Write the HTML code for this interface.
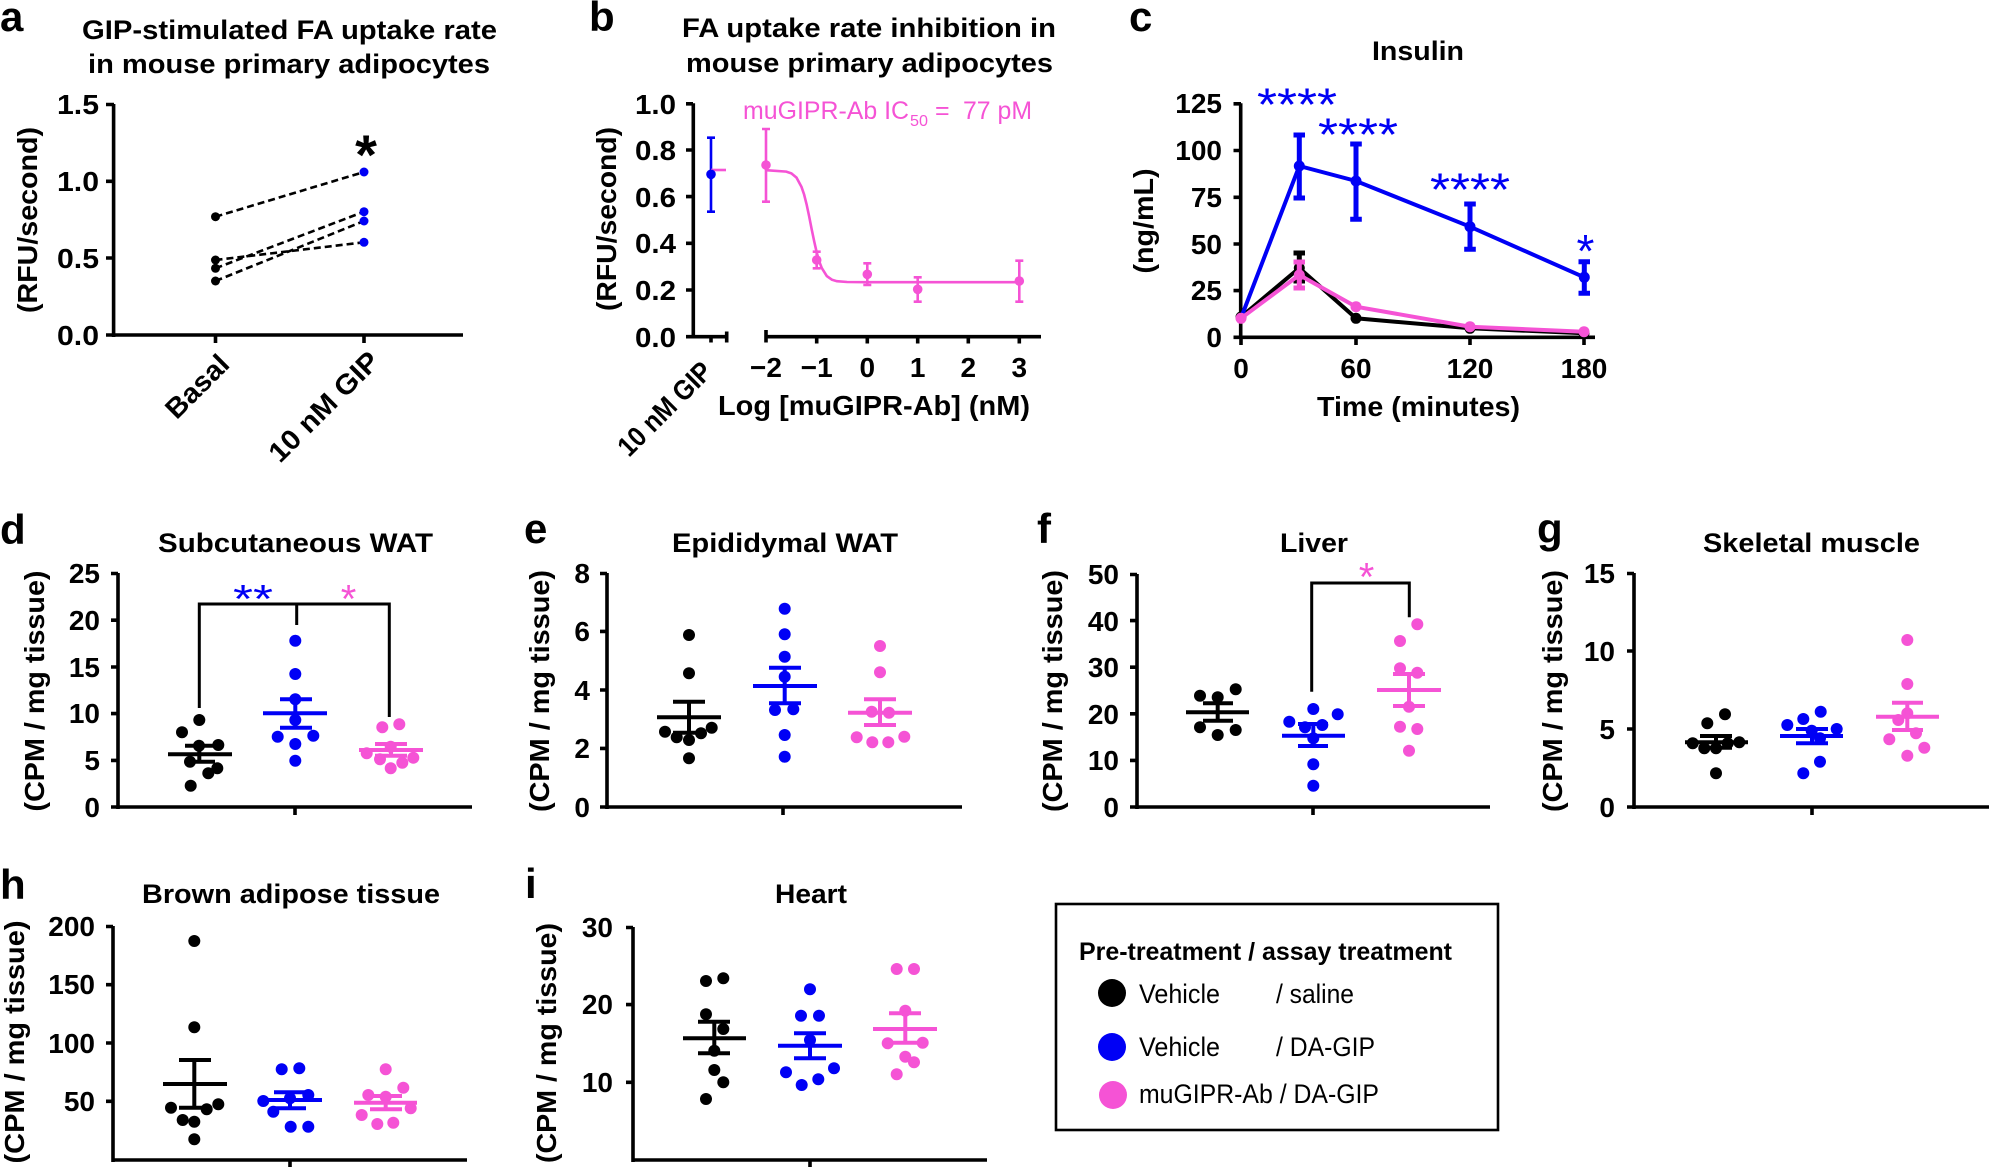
<!DOCTYPE html>
<html><head><meta charset="utf-8"><style>
html,body{margin:0;padding:0;background:#fff;width:1989px;height:1167px;overflow:hidden}
svg{display:block}
text{font-family:"Liberation Sans",Arial,Helvetica,sans-serif}
.lab{font-weight:bold;font-size:42px}
.tt{font-weight:bold;font-size:27px}
.tk{font-weight:bold;font-size:28px}
.tk2{font-weight:bold;font-size:28px}
.yl{font-weight:bold;font-size:28px}
.ax{stroke:#000;stroke-width:3.6;fill:none}
.k{fill:#000}.bl{fill:#0000f5}.pk{fill:#f553d5}
.mk{stroke:#000;stroke-width:4;fill:none}
.mb{stroke:#0000f5;stroke-width:4;fill:none}
.mp{stroke:#f553d5;stroke-width:4;fill:none}
</style></head><body>
<svg width="1989" height="1167" viewBox="0 0 1989 1167" xmlns="http://www.w3.org/2000/svg">
<rect width="1989" height="1167" fill="#fff"/>

<!-- ===== Panel a ===== -->
<text class="lab" x="0" y="31">a</text>
<text class="tt" x="82" y="39" textLength="415" lengthAdjust="spacingAndGlyphs">GIP-stimulated FA uptake rate</text>
<text class="tt" x="88" y="73" textLength="402" lengthAdjust="spacingAndGlyphs">in mouse primary adipocytes</text>
<path class="ax" d="M113.6 104V337M111.8 335H463M106 104.5H114M106 181.3H114M106 258H114M106 335H114M215.5 335V343M364 335V343"/>
<g class="tk2" text-anchor="end">
<text x="99" y="114" textLength="42" lengthAdjust="spacingAndGlyphs">1.5</text>
<text x="99" y="191" textLength="42" lengthAdjust="spacingAndGlyphs">1.0</text>
<text x="99" y="268" textLength="42" lengthAdjust="spacingAndGlyphs">0.5</text>
<text x="99" y="345" textLength="42" lengthAdjust="spacingAndGlyphs">0.0</text>
</g>
<text class="yl" x="0" y="0" text-anchor="middle" transform="translate(37 220) rotate(-90)" textLength="186" lengthAdjust="spacingAndGlyphs">(RFU/second)</text>
<text class="tk2" x="0" y="0" transform="translate(176.6 420.4) rotate(-45)" textLength="77" lengthAdjust="spacingAndGlyphs">Basal</text>
<text class="tk2" x="0" y="0" transform="translate(280 464) rotate(-45)" textLength="143" lengthAdjust="spacingAndGlyphs">10 nM GIP</text>
<g stroke="#000" stroke-width="2.6" stroke-dasharray="7 4" fill="none">
<path d="M215.5 216.7L364 172"/>
<path d="M215.5 260L364 242.3"/>
<path d="M215.5 268.3L364 211.7"/>
<path d="M215.5 281L364 221"/>
</g>
<g class="k"><circle cx="215.5" cy="216.7" r="4.5"/><circle cx="215.5" cy="260" r="4.5"/><circle cx="215.5" cy="268.3" r="4.5"/><circle cx="215.5" cy="281" r="4.5"/></g>
<g class="bl"><circle cx="364" cy="172" r="4.5"/><circle cx="364" cy="211.7" r="4.5"/><circle cx="364" cy="221" r="4.5"/><circle cx="364" cy="242.3" r="4.5"/></g>
<text x="366" y="174" text-anchor="middle" font-weight="bold" font-size="56">*</text>

<!-- ===== Panel b ===== -->
<text class="lab" x="589" y="31">b</text>
<text class="tt" x="682" y="37" textLength="374" lengthAdjust="spacingAndGlyphs">FA uptake rate inhibition in</text>
<text class="tt" x="686" y="72" textLength="367" lengthAdjust="spacingAndGlyphs">mouse primary adipocytes</text>
<path class="ax" d="M693.3 103.3V338.5M691.5 336.7H726.7M726.7 331.5V342.5M711 336.7V342.5M766 330V342.5M766 336.7H1041M816.7 336.7V343.5M867.3 336.7V343.5M917.7 336.7V343.5M968.3 336.7V343.5M1019.3 336.7V343.5M686 103.8H693M686 150H693M686 196.6H693M686 243.3H693M686 290H693M686 336.7H693"/>
<g class="tk2" text-anchor="end">
<text x="676" y="114" textLength="41" lengthAdjust="spacingAndGlyphs">1.0</text>
<text x="676" y="160" textLength="41" lengthAdjust="spacingAndGlyphs">0.8</text>
<text x="676" y="207" textLength="41" lengthAdjust="spacingAndGlyphs">0.6</text>
<text x="676" y="253" textLength="41" lengthAdjust="spacingAndGlyphs">0.4</text>
<text x="676" y="300" textLength="41" lengthAdjust="spacingAndGlyphs">0.2</text>
<text x="676" y="347" textLength="41" lengthAdjust="spacingAndGlyphs">0.0</text>
</g>
<g class="tk2" text-anchor="middle">
<text x="766" y="377">−2</text><text x="816.7" y="377">−1</text><text x="867.3" y="377">0</text><text x="917.7" y="377">1</text><text x="968.3" y="377">2</text><text x="1019.3" y="377">3</text>
</g>
<text class="tk2" x="718" y="415" textLength="312" lengthAdjust="spacingAndGlyphs">Log [muGIPR-Ab] (nM)</text>
<text class="tk2" x="0" y="0" font-size="27" transform="translate(629 458) rotate(-45)" textLength="120" lengthAdjust="spacingAndGlyphs">10 nM GIP</text>
<text class="yl" x="0" y="0" text-anchor="middle" transform="translate(616 219) rotate(-90)" textLength="184" lengthAdjust="spacingAndGlyphs">(RFU/second)</text>
<!-- pink annotation -->
<g fill="#f553d5">
<text x="743" y="119" font-size="25" textLength="166" lengthAdjust="spacingAndGlyphs">muGIPR-Ab IC</text>
<text x="910" y="126" font-size="16" textLength="18" lengthAdjust="spacingAndGlyphs">50</text>
<text x="935" y="119" font-size="25">=</text>
<text x="963" y="119" font-size="25" textLength="69" lengthAdjust="spacingAndGlyphs">77 pM</text>
</g>
<!-- GIP blue -->
<path d="M711 137.7V211.7M707 137.7H715M707 211.7H715" stroke="#0000f5" stroke-width="2.6" fill="none"/>
<path d="M711 170H726" stroke="#f553d5" stroke-width="2.6"/>
<circle cx="711" cy="174.3" r="4.8" class="bl"/>
<!-- pink curve -->
<path d="M766.1 170.2L786.3 171.6L791.4 173.4L796.5 177.6L801.5 186.9L804.1 194.5L806.6 204.4L809.1 216.1L811.6 228.9L814.2 241.4L816.7 252.4L819.2 261.4L821.8 268.1L826.8 276.1L831.9 279.7L836.9 281.2L847.1 282L867.3 282.2L1019.1 282.2" stroke="#f553d5" stroke-width="2.6" fill="none"/>
<g stroke="#f553d5" stroke-width="2.6" fill="none">
<path d="M766 129V201.7M762 129H770M762 201.7H770"/>
<path d="M816.7 251.7V268.3M812.7 251.7H820.7M812.7 268.3H820.7"/>
<path d="M867.3 263.3V285M863.3 263.3H871.3M863.3 285H871.3"/>
<path d="M917.7 277.3V301.7M913.7 277.3H921.7M913.7 301.7H921.7"/>
<path d="M1019.3 260.7V301.7M1015.3 260.7H1023.3M1015.3 301.7H1023.3"/>
</g>
<g class="pk"><circle cx="766" cy="165" r="4.8"/><circle cx="816.7" cy="260" r="4.8"/><circle cx="867.3" cy="274.3" r="4.8"/><circle cx="917.7" cy="289.3" r="4.8"/><circle cx="1019.3" cy="281" r="4.8"/></g>

<!-- ===== Panel c ===== -->
<text class="lab" x="1129" y="31">c</text>
<text class="tt" x="1372" y="60" font-size="28" textLength="92" lengthAdjust="spacingAndGlyphs">Insulin</text>
<path class="ax" d="M1240.7 103.3V339M1239 337.3H1595M1233.5 103.8H1241M1233.5 150.5H1241M1233.5 197.3H1241M1233.5 244H1241M1233.5 290.6H1241M1233.5 337.3H1241M1241 337.3V345M1356 337.3V345M1470 337.3V345M1584 337.3V345"/>
<g class="tk" text-anchor="end">
<text x="1222" y="113">125</text><text x="1222" y="160">100</text><text x="1222" y="207">75</text><text x="1222" y="254">50</text><text x="1222" y="300">25</text><text x="1222" y="347">0</text>
</g>
<g class="tk" text-anchor="middle">
<text x="1241" y="378">0</text><text x="1356" y="378">60</text><text x="1470" y="378">120</text><text x="1584" y="378">180</text>
</g>
<text class="tk" x="1317" y="416" textLength="203" lengthAdjust="spacingAndGlyphs">Time (minutes)</text>
<text class="yl" x="0" y="0" text-anchor="middle" transform="translate(1153 221) rotate(-90)" textLength="105" lengthAdjust="spacingAndGlyphs">(ng/mL)</text>
<!-- black series -->
<path d="M1241 317L1299.3 268L1356 318.3L1470 328.3L1584 333.3" stroke="#000" stroke-width="4" fill="none"/>
<path d="M1299.3 253V281M1293.5 253H1305M1293.5 281H1305" stroke="#000" stroke-width="5" fill="none"/>
<g class="k"><circle cx="1241" cy="317" r="5.5"/><circle cx="1299.3" cy="268" r="5.5"/><circle cx="1356" cy="318.3" r="5.5"/><circle cx="1470" cy="328.3" r="5.5"/><circle cx="1584" cy="333.3" r="5.5"/></g>
<!-- blue series -->
<path d="M1241 318L1299.3 166L1356 181L1470 226.7L1584.3 277.3" stroke="#0000f5" stroke-width="4" fill="none"/>
<g stroke="#0000f5" stroke-width="5" fill="none">
<path d="M1299.3 135V198M1293.5 135H1305M1293.5 198H1305"/>
<path d="M1356 144V219.3M1350.2 144H1361.8M1350.2 219.3H1361.8"/>
<path d="M1470 204V249.3M1464.2 204H1475.8M1464.2 249.3H1475.8"/>
<path d="M1584.3 261.7V293.3M1578.5 261.7H1590M1578.5 293.3H1590"/>
</g>
<g class="bl"><circle cx="1299.3" cy="166" r="5.5"/><circle cx="1356" cy="181" r="5.5"/><circle cx="1470" cy="226.7" r="5.5"/><circle cx="1584.3" cy="277.3" r="5.5"/></g>
<!-- pink series -->
<path d="M1241 318.3L1299.3 275L1356 306.7L1470 326.7L1584 331.7" stroke="#f553d5" stroke-width="4" fill="none"/>
<path d="M1299.3 262V288M1293.5 262H1305M1293.5 288H1305" stroke="#f553d5" stroke-width="5" fill="none"/>
<g class="pk"><circle cx="1241" cy="318.3" r="5.5"/><circle cx="1299.3" cy="275" r="5.5"/><circle cx="1356" cy="306.7" r="5.5"/><circle cx="1470" cy="326.7" r="5.5"/><circle cx="1584" cy="331.7" r="5.5"/></g>
<g fill="#0000f5" font-size="46">
<text x="1257" y="120.5" textLength="80" lengthAdjust="spacingAndGlyphs">****</text>
<text x="1318" y="150.5" textLength="80" lengthAdjust="spacingAndGlyphs">****</text>
<text x="1430" y="205.5" textLength="80" lengthAdjust="spacingAndGlyphs">****</text>
<text x="1585.5" y="267" text-anchor="middle">*</text>
</g>

<!-- ===== Panel d ===== -->
<text class="lab" x="0" y="544">d</text>
<text class="tt" x="158" y="552" font-size="28" textLength="275" lengthAdjust="spacingAndGlyphs">Subcutaneous WAT</text>
<path class="ax" d="M118 573V809M116.2 807H472M111 573.5H118M111 620.2H118M111 667H118M111 713.6H118M111 760.4H118M111 807H118M295 807V815"/>
<g class="tk" text-anchor="end">
<text x="100" y="583">25</text><text x="100" y="630">20</text><text x="100" y="677">15</text><text x="100" y="723">10</text><text x="100" y="770">5</text><text x="100" y="817">0</text>
</g>
<text class="yl" x="0" y="0" text-anchor="middle" transform="translate(44 691) rotate(-90)" textLength="241" lengthAdjust="spacingAndGlyphs">(CPM / mg tissue)</text>
<g class="k"><circle cx="199.3" cy="720" r="6"/><circle cx="182" cy="732.3" r="6"/><circle cx="199" cy="745.7" r="6"/><circle cx="218.3" cy="745" r="6"/><circle cx="190" cy="761.7" r="6"/><circle cx="217.3" cy="768.3" r="6"/><circle cx="208.3" cy="773.3" r="6"/><circle cx="190.7" cy="785.7" r="6"/></g>
<g class="bl"><circle cx="295.3" cy="640.7" r="6"/><circle cx="295.3" cy="674" r="6"/><circle cx="295.3" cy="699.3" r="6"/><circle cx="295.3" cy="720" r="6"/><circle cx="277.7" cy="736.7" r="6"/><circle cx="313.3" cy="735.7" r="6"/><circle cx="295.3" cy="744" r="6"/><circle cx="295.3" cy="760.7" r="6"/></g>
<g class="pk"><circle cx="382.3" cy="727.3" r="6"/><circle cx="399.3" cy="724.3" r="6"/><circle cx="366.7" cy="753.3" r="6"/><circle cx="390.7" cy="746.7" r="6"/><circle cx="380" cy="759.3" r="6"/><circle cx="402.3" cy="762.7" r="6"/><circle cx="413.3" cy="757.7" r="6"/><circle cx="390.7" cy="768.3" r="6"/></g>
<path class="mk" d="M168 754.3H232M199.3 745.7V761.7M185 745.7H215M185 761.7H215"/>
<path class="mb" d="M263 713.3H327M295.3 699.3V727.7M280 699.3H312M280 727.7H312"/>
<path class="mp" d="M359 750H423M391 744V755.7M375 744H407M375 755.7H407"/>
<path d="M199.3 708V604H389.3V717M296.7 604V625" stroke="#000" stroke-width="3" fill="none"/>
<text x="233" y="612.5" fill="#0000f5" font-size="40" textLength="40" lengthAdjust="spacingAndGlyphs">**</text>
<text x="348.5" y="612.5" fill="#f553d5" font-size="40" text-anchor="middle">*</text>

<!-- ===== Panel e ===== -->
<text class="lab" x="524" y="543">e</text>
<text class="tt" x="672" y="552" font-size="28" textLength="226" lengthAdjust="spacingAndGlyphs">Epididymal WAT</text>
<path class="ax" d="M607 573V809M605.2 807H962M600 573.5H607M600 631.4H607M600 690H607M600 748.4H607M600 807H607M783 807V815"/>
<g class="tk" text-anchor="end">
<text x="590" y="583">8</text><text x="590" y="641">6</text><text x="590" y="700">4</text><text x="590" y="758">2</text><text x="590" y="817">0</text>
</g>
<text class="yl" x="0" y="0" text-anchor="middle" transform="translate(549 691) rotate(-90)" textLength="242" lengthAdjust="spacingAndGlyphs">(CPM / mg tissue)</text>
<g class="k"><circle cx="689" cy="635" r="6"/><circle cx="689" cy="673.3" r="6"/><circle cx="665" cy="731.7" r="6"/><circle cx="676.7" cy="737.3" r="6"/><circle cx="689" cy="740" r="6"/><circle cx="701" cy="733.3" r="6"/><circle cx="711.7" cy="727.7" r="6"/><circle cx="689" cy="758.3" r="6"/></g>
<g class="bl"><circle cx="784.7" cy="608.7" r="6"/><circle cx="784.7" cy="634.3" r="6"/><circle cx="784.7" cy="656.7" r="6"/><circle cx="784.7" cy="676.7" r="6"/><circle cx="775" cy="710" r="6"/><circle cx="793.3" cy="709.3" r="6"/><circle cx="784.7" cy="735" r="6"/><circle cx="784.7" cy="756.7" r="6"/></g>
<g class="pk"><circle cx="880" cy="646" r="6"/><circle cx="880" cy="672.3" r="6"/><circle cx="871.7" cy="711.7" r="6"/><circle cx="889" cy="712.7" r="6"/><circle cx="856.7" cy="737.3" r="6"/><circle cx="872.3" cy="742.3" r="6"/><circle cx="888.3" cy="742.3" r="6"/><circle cx="904.3" cy="736.7" r="6"/></g>
<path class="mk" d="M657 717.3H721M689 701.7V732.7M673 701.7H705M673 732.7H705"/>
<path class="mb" d="M753 686H817M784.7 667.7V703.3M769 667.7H801M769 703.3H801"/>
<path class="mp" d="M848 712.7H912M880 699.3V725M864 699.3H896M864 725H896"/>

<!-- ===== Panel f ===== -->
<text class="lab" x="1037" y="543">f</text>
<text class="tt" x="1280" y="552" font-size="28" textLength="68" lengthAdjust="spacingAndGlyphs">Liver</text>
<path class="ax" d="M1137 574V809M1135.2 807H1490M1130 574.5H1137M1130 620.6H1137M1130 667.2H1137M1130 713.8H1137M1130 760.4H1137M1130 807H1137M1313 807V815"/>
<g class="tk" text-anchor="end">
<text x="1119" y="584">50</text><text x="1119" y="631">40</text><text x="1119" y="677">30</text><text x="1119" y="724">20</text><text x="1119" y="770">10</text><text x="1119" y="817">0</text>
</g>
<text class="yl" x="0" y="0" text-anchor="middle" transform="translate(1062 691) rotate(-90)" textLength="242" lengthAdjust="spacingAndGlyphs">(CPM / mg tissue)</text>
<g class="k"><circle cx="1200" cy="695.7" r="6"/><circle cx="1217.7" cy="697.3" r="6"/><circle cx="1235.7" cy="689.3" r="6"/><circle cx="1200" cy="727.3" r="6"/><circle cx="1217.7" cy="735" r="6"/><circle cx="1235.7" cy="730" r="6"/></g>
<g class="bl"><circle cx="1313.3" cy="709" r="6"/><circle cx="1337.7" cy="714.3" r="6"/><circle cx="1289.3" cy="721.7" r="6"/><circle cx="1305" cy="727.3" r="6"/><circle cx="1322.3" cy="725" r="6"/><circle cx="1313.3" cy="738.3" r="6"/><circle cx="1313.3" cy="764.3" r="6"/><circle cx="1313.3" cy="785.7" r="6"/></g>
<g class="pk"><circle cx="1417.3" cy="624.3" r="6"/><circle cx="1400" cy="641" r="6"/><circle cx="1400" cy="668.3" r="6"/><circle cx="1417.3" cy="672.7" r="6"/><circle cx="1409" cy="706.7" r="6"/><circle cx="1400" cy="726.7" r="6"/><circle cx="1417.3" cy="729" r="6"/><circle cx="1409" cy="750.7" r="6"/></g>
<path class="mk" d="M1186 712.3H1249M1217.7 703.3V720.7M1203 703.3H1233M1203 720.7H1233"/>
<path class="mb" d="M1282 735.7H1345M1313.3 724V746M1298 724H1328M1298 746H1328"/>
<path class="mp" d="M1377 690H1441M1409 674V706M1393 674H1425M1393 706H1425"/>
<path d="M1311.7 691.7V583H1409.3V617.3" stroke="#000" stroke-width="3" fill="none"/>
<text x="1366.5" y="590.5" fill="#f553d5" font-size="40" text-anchor="middle">*</text>

<!-- ===== Panel g ===== -->
<text class="lab" x="1537" y="543">g</text>
<text class="tt" x="1703" y="552" font-size="28" textLength="217" lengthAdjust="spacingAndGlyphs">Skeletal muscle</text>
<path class="ax" d="M1634 573V809M1632.2 807H1989M1627 573.5H1634M1627 651H1634M1627 729H1634M1627 807H1634M1812 807V815"/>
<g class="tk" text-anchor="end">
<text x="1615" y="583">15</text><text x="1615" y="661">10</text><text x="1615" y="739">5</text><text x="1615" y="817">0</text>
</g>
<text class="yl" x="0" y="0" text-anchor="middle" transform="translate(1562 691) rotate(-90)" textLength="242" lengthAdjust="spacingAndGlyphs">(CPM / mg tissue)</text>
<g class="k"><circle cx="1725" cy="714.3" r="6"/><circle cx="1707.3" cy="723.3" r="6"/><circle cx="1692.7" cy="743.3" r="6"/><circle cx="1704.3" cy="748.3" r="6"/><circle cx="1716" cy="748.3" r="6"/><circle cx="1727.7" cy="743.3" r="6"/><circle cx="1739.3" cy="742.3" r="6"/><circle cx="1716" cy="773.3" r="6"/></g>
<g class="bl"><circle cx="1820.7" cy="711.7" r="6"/><circle cx="1803.3" cy="719" r="6"/><circle cx="1787.3" cy="725" r="6"/><circle cx="1836.7" cy="729" r="6"/><circle cx="1811.7" cy="730.7" r="6"/><circle cx="1820" cy="738.3" r="6"/><circle cx="1820" cy="761.7" r="6"/><circle cx="1803.3" cy="773.3" r="6"/></g>
<g class="pk"><circle cx="1907.3" cy="640" r="6"/><circle cx="1907.3" cy="684" r="6"/><circle cx="1907.3" cy="713.3" r="6"/><circle cx="1898.3" cy="720" r="6"/><circle cx="1916" cy="733.3" r="6"/><circle cx="1889.3" cy="739.3" r="6"/><circle cx="1924.3" cy="747.7" r="6"/><circle cx="1907.3" cy="755.7" r="6"/></g>
<path class="mk" d="M1685 742.3H1748M1716 736V747.7M1700 736H1732M1700 747.7H1732"/>
<path class="mb" d="M1780 736H1843M1812 729V743.3M1796 729H1828M1796 743.3H1828"/>
<path class="mp" d="M1876 716.7H1939M1907.3 702.7V730M1892 702.7H1923M1892 730H1923"/>

<!-- ===== Panel h ===== -->
<text class="lab" x="0" y="899">h</text>
<text class="tt" x="142" y="903" font-size="28" textLength="298" lengthAdjust="spacingAndGlyphs">Brown adipose tissue</text>
<path class="ax" d="M113 926V1162M111.2 1160H467M106 926.5H113M106 984.7H113M106 1043H113M106 1101.3H113M290 1160V1167"/>
<g class="tk" text-anchor="end">
<text x="95" y="936">200</text><text x="95" y="994">150</text><text x="95" y="1053">100</text><text x="95" y="1111">50</text>
</g>
<text class="yl" x="0" y="0" text-anchor="middle" transform="translate(24 1042) rotate(-90)" textLength="243" lengthAdjust="spacingAndGlyphs">(CPM / mg tissue)</text>
<g class="k"><circle cx="194.3" cy="941" r="6"/><circle cx="194.3" cy="1027.3" r="6"/><circle cx="171" cy="1107.7" r="6"/><circle cx="206.7" cy="1109.3" r="6"/><circle cx="218.3" cy="1104.3" r="6"/><circle cx="182.7" cy="1120" r="6"/><circle cx="194.3" cy="1121.7" r="6"/><circle cx="194.3" cy="1139.3" r="6"/></g>
<g class="bl"><circle cx="281.7" cy="1069.3" r="6"/><circle cx="299.3" cy="1068.3" r="6"/><circle cx="263.3" cy="1101" r="6"/><circle cx="308.3" cy="1095" r="6"/><circle cx="273.3" cy="1111.7" r="6"/><circle cx="290.7" cy="1126.7" r="6"/><circle cx="308.3" cy="1126.7" r="6"/><circle cx="290" cy="1098.3" r="6"/></g>
<g class="pk"><circle cx="385.7" cy="1069.3" r="6"/><circle cx="403.3" cy="1087.7" r="6"/><circle cx="368.3" cy="1095" r="6"/><circle cx="385.7" cy="1096.7" r="6"/><circle cx="410.7" cy="1108.3" r="6"/><circle cx="361.7" cy="1115" r="6"/><circle cx="377.3" cy="1124" r="6"/><circle cx="393.3" cy="1122.7" r="6"/></g>
<path class="mk" d="M163 1084H227M194.3 1060V1107.7M179 1060H211M179 1107.7H211"/>
<path class="mb" d="M258 1100H322M290 1092.3V1108.3M274 1092.3H306M274 1108.3H306"/>
<path class="mp" d="M354 1102.7H417M385.7 1096V1109.3M370 1096H402M370 1109.3H402"/>

<!-- ===== Panel i ===== -->
<text class="lab" x="525" y="898">i</text>
<text class="tt" x="775" y="903" font-size="28" textLength="72" lengthAdjust="spacingAndGlyphs">Heart</text>
<path class="ax" d="M633 927V1162M631.2 1160H987M626 927.5H633M626 1004.6H633M626 1082.3H633M810 1160V1167"/>
<g class="tk" text-anchor="end">
<text x="613" y="937">30</text><text x="613" y="1014">20</text><text x="613" y="1092">10</text>
</g>
<text class="yl" x="0" y="0" text-anchor="middle" transform="translate(556 1043) rotate(-90)" textLength="240" lengthAdjust="spacingAndGlyphs">(CPM / mg tissue)</text>
<g class="k"><circle cx="706" cy="981" r="6"/><circle cx="723.3" cy="978.3" r="6"/><circle cx="706" cy="1014.3" r="6"/><circle cx="723.3" cy="1029" r="6"/><circle cx="714.3" cy="1050.7" r="6"/><circle cx="714.3" cy="1070" r="6"/><circle cx="723.3" cy="1082.3" r="6"/><circle cx="706" cy="1099" r="6"/></g>
<g class="bl"><circle cx="810" cy="989.3" r="6"/><circle cx="801" cy="1015.7" r="6"/><circle cx="819" cy="1015.7" r="6"/><circle cx="810" cy="1040" r="6"/><circle cx="786" cy="1072.3" r="6"/><circle cx="834" cy="1068.3" r="6"/><circle cx="801.7" cy="1085" r="6"/><circle cx="818.3" cy="1079.3" r="6"/></g>
<g class="pk"><circle cx="896.7" cy="969" r="6"/><circle cx="914" cy="969" r="6"/><circle cx="905.3" cy="1010.7" r="6"/><circle cx="887.7" cy="1043.3" r="6"/><circle cx="922.7" cy="1042.7" r="6"/><circle cx="905.3" cy="1056.7" r="6"/><circle cx="914" cy="1062.3" r="6"/><circle cx="896.7" cy="1074.3" r="6"/></g>
<path class="mk" d="M683 1038.3H746M714.3 1021.7V1053.3M698 1021.7H730M698 1053.3H730"/>
<path class="mb" d="M778 1045.7H842M810 1033.3V1058.3M794 1033.3H826M794 1058.3H826"/>
<path class="mp" d="M873 1029H937M905.3 1013.3V1042.7M889 1013.3H921M889 1042.7H921"/>

<!-- ===== Legend ===== -->
<rect x="1056" y="904" width="442" height="226" fill="none" stroke="#000" stroke-width="2.6"/>
<text x="1079" y="960" font-weight="bold" font-size="25" textLength="373" lengthAdjust="spacingAndGlyphs">Pre-treatment / assay treatment</text>
<circle cx="1112" cy="993" r="14" fill="#000"/>
<circle cx="1112" cy="1047" r="14" fill="#0000f5"/>
<circle cx="1113" cy="1095" r="14" fill="#f553d5"/>
<g font-size="27">
<text x="1139" y="1003" textLength="81" lengthAdjust="spacingAndGlyphs">Vehicle</text>
<text x="1276" y="1003" textLength="78" lengthAdjust="spacingAndGlyphs">/ saline</text>
<text x="1139" y="1056" textLength="81" lengthAdjust="spacingAndGlyphs">Vehicle</text>
<text x="1276" y="1056" textLength="99" lengthAdjust="spacingAndGlyphs">/ DA-GIP</text>
<text x="1139" y="1103" textLength="240" lengthAdjust="spacingAndGlyphs">muGIPR-Ab / DA-GIP</text>
</g>
</svg>
</body></html>
